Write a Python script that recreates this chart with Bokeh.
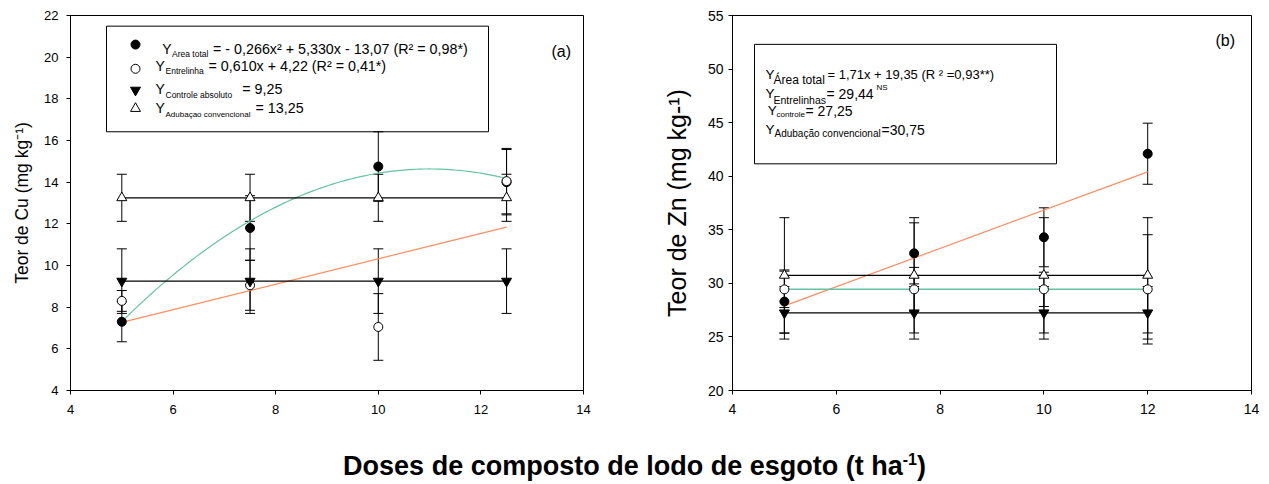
import numpy as np
from bokeh.plotting import figure
from bokeh.models import (Range1d, FixedTicker, Whisker, TeeHead, ColumnDataSource,
                          Label, BoxAnnotation, Div)
from bokeh.layouts import row, column
from bokeh.embed import file_html
from bokeh.resources import INLINE

# ---------------- data: panel (a) Cu ----------------
doses_cu = [5, 7.5, 10, 12.5]
cu_area_total = [7.3, 11.8, 14.75, 14.0]
cu_area_total_err = [0.96, 1.55, 1.67, 1.57]
cu_entrelinha = [8.3, 9.05, 7.05, 14.05]
cu_entrelinha_err = [0.5, 1.2, 1.6, 1.57]
cu_controle = [9.25, 9.25, 9.25, 9.25]
cu_controle_err = [1.55, 1.55, 1.55, 1.55]
cu_adubacao = [13.25, 13.25, 13.25, 13.25]
cu_adubacao_err = [1.13, 1.13, 1.13, 1.13]
cu_area_fit = [-0.2036, 4.479, -10.0]      # quadratic trend as drawn
cu_entre_fit = [0.610, 4.22]               # linear trend
cu_controle_mean = 9.25
cu_adubacao_mean = 13.25

# ---------------- data: panel (b) Zn ----------------
doses_zn = [5, 7.5, 10, 12]
zn_area_total = [28.3, 32.8, 34.3, 42.1]
zn_area_total_err = [2.95, 2.85, 2.75, 2.85]
zn_entrelinhas = [29.44, 29.44, 29.44, 29.44]
zn_entrelinhas_err = [1.7, 2.05, 1.6, 5.1]
zn_controle = [27.25, 27.25, 27.25, 27.25]
zn_controle_err = [2.45, 2.45, 2.45, 2.45]
zn_adubacao = [30.75, 30.75, 30.75, 30.75]
zn_adubacao_err = [5.38, 5.38, 5.38, 5.38]
zn_area_fit = [1.786, 18.97]
zn_entre_mean = 29.44
zn_controle_mean = 27.25
zn_adubacao_mean = 30.75

x_ticks = [4, 6, 8, 10, 12, 14]
cu_y_ticks = [4, 6, 8, 10, 12, 14, 16, 18, 20, 22]
zn_y_ticks = [20, 25, 30, 35, 40, 45, 50, 55]

FONT = "Liberation Sans"
GREEN = "#66c2a5"
ORANGE = "#fc8d62"


def make_fig(yr, w, h, bl, br, bt, bb):
    p = figure(width=w, height=h, x_range=Range1d(4, 14), y_range=Range1d(*yr),
               output_backend="svg", toolbar_location=None,
               min_border_left=bl, min_border_right=br, min_border_top=bt, min_border_bottom=bb)
    p.background_fill_color = "white"
    p.border_fill_color = "white"
    p.xgrid.visible = False
    p.ygrid.visible = False
    p.outline_line_color = "black"
    p.outline_line_alpha = 1
    p.outline_line_width = 1
    for ax in (p.xaxis[0], p.yaxis[0]):
        ax.axis_line_color = "black"
        ax.major_tick_line_color = "black"
        ax.major_tick_out = 4
        ax.major_tick_in = 0
        ax.minor_tick_out = 0
        ax.minor_tick_in = 0
        ax.major_label_text_font = FONT
        ax.major_label_text_color = "black"
        ax.axis_label_text_font = FONT
        ax.axis_label_text_font_style = "normal"
        ax.axis_label_text_color = "black"
    return p


def errbars(p, x, y, e):
    src = ColumnDataSource(dict(x=x, lo=[a - b for a, b in zip(y, e)],
                                hi=[a + b for a, b in zip(y, e)]))
    w = Whisker(source=src, base="x", lower="lo", upper="hi", dimension="height",
                line_color="black", line_width=1, level="underlay",
                upper_head=TeeHead(size=10, line_color="black", line_width=1),
                lower_head=TeeHead(size=10, line_color="black", line_width=1))
    p.add_layout(w)


def markers(p, x, y, kind, filled, size):
    p.scatter(x, y, marker=kind, size=size, line_color="black", line_width=1,
              fill_color="black" if filled else "white")


def add_text(p, conv, X, Y, txt, fs, align="left"):
    x, y = conv(X, Y)
    p.add_layout(Label(x=x, y=y, text=txt, text_font=FONT, text_font_size=f"{fs}px",
                       text_baseline="alphabetic", text_align=align, text_color="black"))


# ---------------- panel (a) ----------------
p1 = make_fig((4, 22), 658, 436, 70, 75, 15, 34)
p1.xaxis.ticker = FixedTicker(ticks=x_ticks)
p1.yaxis.ticker = FixedTicker(ticks=cu_y_ticks)
p1.xaxis.major_label_text_font_size = "13px"
p1.yaxis.major_label_text_font_size = "13px"
p1.xaxis.major_label_standoff = 10
p1.yaxis.major_label_standoff = 8
p1.yaxis.axis_label = "Teor de Cu (mg kg\u207b\u00b9)"
p1.yaxis.axis_label_text_font_size = "17.5px"
p1.yaxis.axis_label_standoff = 9


def c1(X, Y):
    return 4 + (X - 70) * 10 / 513, 22 - (Y - 15) * 18 / 387


for yv, e in [(cu_area_total, cu_area_total_err), (cu_entrelinha, cu_entrelinha_err),
              (cu_controle, cu_controle_err), (cu_adubacao, cu_adubacao_err)]:
    errbars(p1, doses_cu, yv, e)

xs = np.linspace(doses_cu[0], doses_cu[-1], 150)
a, b, c = cu_area_fit
p1.line(xs, a * xs ** 2 + b * xs + c, line_color=GREEN, line_width=1.2)
m, q = cu_entre_fit
p1.line([doses_cu[0], doses_cu[-1]], [m * doses_cu[0] + q, m * doses_cu[-1] + q],
        line_color=ORANGE, line_width=1.2)
p1.line([doses_cu[0], doses_cu[-1]], [cu_controle_mean] * 2, line_color="black", line_width=1.2)
p1.line([doses_cu[0], doses_cu[-1]], [cu_adubacao_mean] * 2, line_color="black", line_width=1.2)

markers(p1, doses_cu, cu_area_total, "circle", True, 9)
markers(p1, doses_cu, cu_entrelinha, "circle", False, 9)
markers(p1, doses_cu, cu_controle, "inverted_triangle", True, 10)
markers(p1, doses_cu, cu_adubacao, "triangle", False, 10)

# legend (a)
x0, yt = c1(106, 26)
x1, yb = c1(488, 135)
p1.add_layout(BoxAnnotation(left=x0, right=x1, top=yt, bottom=yb, fill_alpha=0,
                            line_color="black", line_alpha=1, line_width=1))
lx, _ = c1(135, 0)
legend_kinds = [("circle", True, 45), ("circle", False, 70),
                ("inverted_triangle", True, 92), ("triangle", False, 111)]
for kind, filled, Y in legend_kinds:
    _, ly = c1(0, Y)
    markers(p1, [lx], [ly], kind, filled, 9 if kind == "circle" else 10)

leg_a = [
    [("Y", 161.7, 49.3, 14), ("Area total", 171.5, 54.3, 8.5),
     ("= - 0,266x\u00b2  + 5,330x - 13,07 (R\u00b2 = 0,98*)", 212.5, 49.3, 14.3)],
    [("Y", 155, 66.7, 14), ("Entrelinha", 165, 72.7, 8.5),
     ("= 0,610x + 4,22 (R\u00b2 = 0,41*)", 208, 66.7, 14.3)],
    [("Y", 155, 90.7, 14), ("Controle absoluto", 165, 96.7, 8.5), ("= 9,25", 241.7, 90.7, 14.3)],
    [("Y", 155, 110.7, 14), ("Adubaçao convencional", 165, 116.7, 8), ("= 13,25", 255, 110.7, 14.3)],
]
for r in leg_a:
    for t, X, Y, fs in r:
        add_text(p1, c1, X, Y, t, fs)
add_text(p1, c1, 551, 52, "(a)", 16)

# ---------------- panel (b) ----------------
p2 = make_fig((20, 55), 611, 436, 74, 18, 13, 46)
p2.xaxis.ticker = FixedTicker(ticks=x_ticks)
p2.yaxis.ticker = FixedTicker(ticks=zn_y_ticks)
p2.xaxis.major_label_text_font_size = "14px"
p2.yaxis.major_label_text_font_size = "14px"
p2.xaxis.major_label_standoff = 9
p2.yaxis.major_label_standoff = 5
p2.yaxis.axis_label = "Teor de Zn (mg kg-\u00b9)"
p2.yaxis.axis_label_text_font_size = "25px"
p2.yaxis.axis_label_standoff = 14


def c2(X, Y):
    return 4 + (X - 732) * 10 / 519, 55 - (Y - 13.3) * 35 / 376.7


for yv, e in [(zn_area_total, zn_area_total_err), (zn_entrelinhas, zn_entrelinhas_err),
              (zn_controle, zn_controle_err), (zn_adubacao, zn_adubacao_err)]:
    errbars(p2, doses_zn, yv, e)

m, q = zn_area_fit
p2.line([doses_zn[0], doses_zn[-1]], [m * doses_zn[0] + q, m * doses_zn[-1] + q],
        line_color=ORANGE, line_width=1.2)
p2.line([doses_zn[0], doses_zn[-1]], [zn_entre_mean] * 2, line_color=GREEN, line_width=1.5)
p2.line([doses_zn[0], doses_zn[-1]], [zn_controle_mean] * 2, line_color="black", line_width=1.2)
p2.line([doses_zn[0], doses_zn[-1]], [zn_adubacao_mean] * 2, line_color="black", line_width=1.2)

markers(p2, doses_zn, zn_area_total, "circle", True, 9)
markers(p2, doses_zn, zn_entrelinhas, "circle", False, 9)
markers(p2, doses_zn, zn_controle, "inverted_triangle", True, 10)
markers(p2, doses_zn, zn_adubacao, "triangle", False, 10)

x0, yt = c2(754, 42.3)
x1, yb = c2(1056, 162.3)
p2.add_layout(BoxAnnotation(left=x0, right=x1, top=yt, bottom=yb, fill_alpha=0,
                            line_color="black", line_alpha=1, line_width=1))
leg_b = [
    [("Y", 765, 72.3, 13.5), ("Área total", 773, 78.3, 12),
     ("= 1,71x + 19,35 (R \u00b2 =0,93**)", 827, 72.3, 13)],
    [("Y", 765, 91.7, 13.5), ("Entrelinhas", 773, 97.7, 10.5), ("= 29,44", 826, 91.7, 14),
     ("NS", 876, 85.7, 8)],
    [("Y", 767.3, 109, 13.5), ("controle", 776, 112.3, 8), ("= 27,25", 805, 109, 14)],
    [("Y", 765, 128.3, 13.5), ("Adubação convencional", 774, 131.7, 10), ("=30,75", 881, 128.3, 14)],
]
for r in leg_b:
    for t, X, Y, fs in r:
        add_text(p2, c2, X, Y, t, fs)
add_text(p2, c2, 1215, 38, "(b)", 16)

title_html = ('<div style="width:1269px;text-align:center;font-family:\'Liberation Sans\',Arial,sans-serif;'
              'font-weight:bold;font-size:27px;line-height:20px;padding-top:20px;color:black;">'
              'Doses de composto de lodo de esgoto (t ha<sup style="font-size:16px;line-height:0;'
              'vertical-align:10px;">-1</sup>)</div>')
title = Div(text=title_html, width=1269, height=48, margin=(0, 0, 0, 0))

layout = column(row(p1, p2, spacing=0), title, spacing=0)
open("out.html", "w").write(file_html(layout, INLINE))
